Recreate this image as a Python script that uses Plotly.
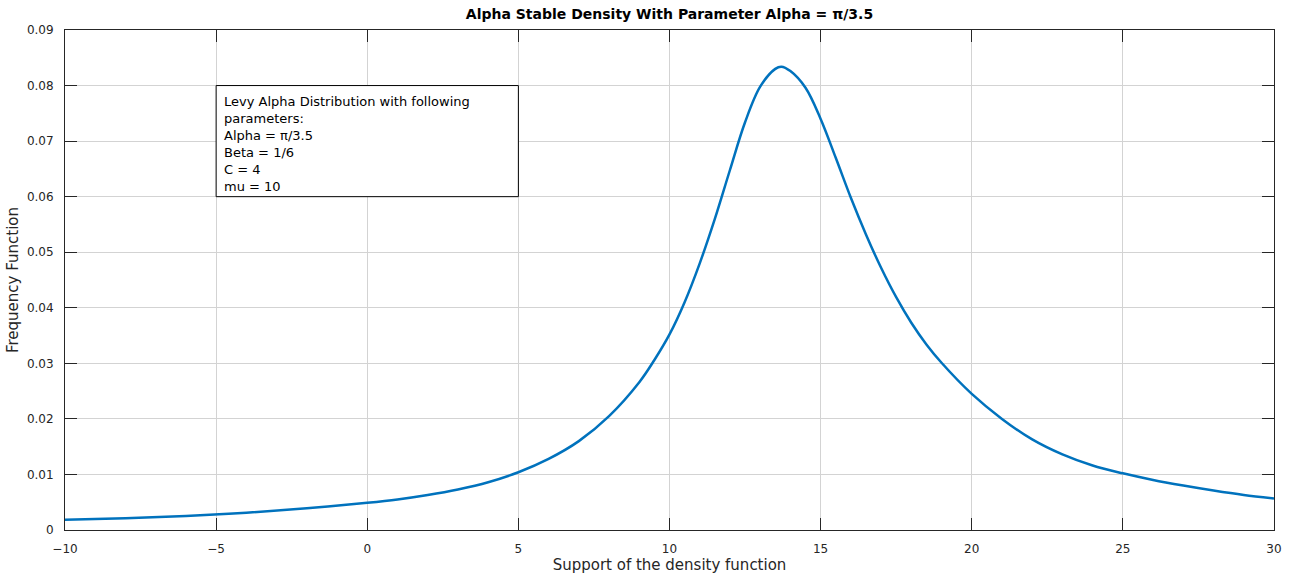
import plotly.graph_objects as go

# Support points and density values of the alpha-stable curve
support = [-10, -8, -6, -4, -2, 0, 1, 2, 3, 4, 5, 6, 7, 8, 9, 9.5, 10, 10.5,
           11, 11.5, 12, 12.5, 13, 13.5, 13.7, 14, 14.5, 15, 15.5, 16, 16.5,
           17, 17.5, 18, 18.5, 19, 20, 21, 22, 23, 24, 25, 26, 27, 28, 29, 30]
density = [0.00184, 0.0021, 0.0025, 0.0031, 0.0039, 0.0049, 0.0055, 0.0063,
           0.0073, 0.0086, 0.0104, 0.0128, 0.0160, 0.0205, 0.0266, 0.0306,
           0.0352, 0.0410, 0.0480, 0.0560, 0.0648, 0.0734, 0.0798, 0.0830,
           0.0834, 0.0826, 0.0796, 0.0740, 0.0670, 0.0598, 0.0532, 0.0472,
           0.0419, 0.0373, 0.0334, 0.0301, 0.0245, 0.0200, 0.0163, 0.0136,
           0.0116, 0.0102, 0.0090, 0.0080, 0.0071, 0.0063, 0.00566]

x_ticks = [-10, -5, 0, 5, 10, 15, 20, 25, 30]
y_ticks = [0, 0.01, 0.02, 0.03, 0.04, 0.05, 0.06, 0.07, 0.08, 0.09]
y_tick_labels = ["0", "0.01", "0.02", "0.03", "0.04", "0.05", "0.06", "0.07", "0.08", "0.09"]

info_lines = ["Levy Alpha Distribution with following", "parameters:",
              "Alpha = π/3.5", "Beta = 1/6", "C = 4", "mu = 10"]

FONT = "DejaVu Sans, Arial, sans-serif"
AXIS_COLOR = "#262626"
GRID_COLOR = "#d3d3d3"

fig = go.Figure()
fig.add_trace(go.Scatter(
    x=support, y=density, mode="lines",
    line=dict(color="#0072BD", width=2.5, shape="spline", smoothing=1),
    showlegend=False, hoverinfo="x+y",
))

axis_common = dict(
    showline=True, linecolor=AXIS_COLOR, linewidth=1, mirror="ticks",
    ticks="inside", ticklen=12, tickwidth=1, tickcolor=AXIS_COLOR,
    showgrid=True, gridcolor=GRID_COLOR, gridwidth=1, zeroline=False,
    tickfont=dict(family=FONT, size=12, color=AXIS_COLOR),
)

fig.update_layout(
    width=1297, height=581,
    margin=dict(l=65, r=23, t=30, b=47),
    paper_bgcolor="white", plot_bgcolor="white",
    font=dict(family=FONT, color=AXIS_COLOR),
    title=dict(
        text="<b>Alpha Stable Density With Parameter Alpha = π/3.5</b>",
        x=0.5, xref="paper", xanchor="center", y=0.975, yref="container",
        yanchor="middle", font=dict(family=FONT, size=14, color="#000000"),
    ),
    xaxis=dict(range=[-10, 30], tickvals=x_ticks, ticklabelstandoff=8,
               title=dict(text="Support of the density function", standoff=2,
                          font=dict(family=FONT, size=15, color=AXIS_COLOR)),
               **axis_common),
    yaxis=dict(range=[0, 0.09], tickvals=y_ticks, ticktext=y_tick_labels,
               ticklabelstandoff=8,
               title=dict(text="Frequency Function", standoff=4,
                          font=dict(family=FONT, size=15, color=AXIS_COLOR)),
               **axis_common),
)

# Parameter text box
fig.add_shape(type="rect", xref="x", yref="y", x0=-5, x1=5, y0=0.06, y1=0.08,
              line=dict(color="#000000", width=1), fillcolor="white", layer="above")
fig.add_annotation(
    xref="x", yref="y", x=-5, y=0.08, xanchor="left", yanchor="top",
    text="<br>".join(info_lines), align="left", showarrow=False,
    xshift=6, yshift=-6,
    font=dict(family=FONT, size=13, color="#000000"),
)

fig.write_html("out.html")
